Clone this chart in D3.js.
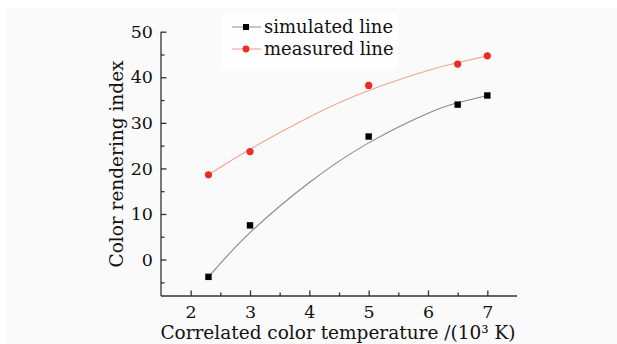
<!DOCTYPE html>
<html>
<head>
<script src="https://cdn.jsdelivr.net/npm/d3@7"></script>
<style>
body { margin: 0; background: #fff; }
text { font-family: "DejaVu Serif", serif; fill: #111; }
.axis path, .axis line { stroke: #333; stroke-width: 1.3px; }
</style>
</head>
<body>
<svg width="617" height="344"></svg>
<script>

// data
var temps = [2.3, 3, 5, 6.5, 7];
var simulated = [-3.8, 7.5, 27.0, 34.0, 36.0];
var measured = [18.6, 23.7, 38.2, 42.9, 44.7];

// fitted curves
var fitTemps = [2.3, 3, 4, 5, 6, 6.5, 7];
var simulatedFit = [-3.8, 5.9, 16.9, 25.6, 32.1, 34.4, 36.0];
var measuredFit = [18.6, 24.2, 31.3, 37.1, 41.5, 43.2, 44.7];

var xTicks = [2, 3, 4, 5, 6, 7];
var yTicks = [0, 10, 20, 30, 40, 50];

var svg = d3.select("svg");

svg.append("rect")
	.attr("x", 7).attr("y", 8)
	.attr("width", 610).attr("height", 336)
	.attr("fill", "#fafafa");

var x = d3.scaleLinear().domain([1.5, 7.5]).range([161, 517]);
var y = d3.scaleLinear().domain([-8, 50]).range([296, 31.7]);

// minor ticks
svg.append("g").attr("class", "axis")
	.attr("transform", "translate(0,296)")
	.call(d3.axisBottom(x).tickValues(d3.range(2.5, 7.5, 1)).tickSize(-3.5).tickFormat(""))
	.select(".domain").remove();
svg.append("g").attr("class", "axis")
	.attr("transform", "translate(161,0)")
	.call(d3.axisLeft(y).tickValues(d3.range(-5, 50, 10)).tickSize(-3.5).tickFormat(""))
	.select(".domain").remove();

var xAxis = svg.append("g").attr("class", "axis")
	.attr("transform", "translate(0,296)")
	.call(d3.axisBottom(x).tickValues(xTicks).tickSize(-5.5).tickSizeOuter(0).tickFormat(d3.format("d")));
xAxis.selectAll("text").attr("font-size", "17.5px").attr("font-family", "DejaVu Serif").attr("dy", "0.71em").attr("y", 9.5);

var yAxis = svg.append("g").attr("class", "axis")
	.attr("transform", "translate(161,0)")
	.call(d3.axisLeft(y).tickValues(yTicks).tickSize(-5.5).tickSizeOuter(0).tickPadding(8).tickFormat(d3.format("d")));
yAxis.selectAll("text").attr("font-size", "17.5px").attr("font-family", "DejaVu Serif");
yAxis.select(".domain").attr("d", "M0," + y(50) + "V296");
xAxis.select(".domain").attr("d", "M161,0H517");

var line = d3.line()
	.x(function(d) { return x(d[0]); })
	.y(function(d) { return y(d[1]); })
	.curve(d3.curveNatural);

svg.append("path")
	.datum(d3.zip(fitTemps, measuredFit))
	.attr("d", line)
	.attr("fill", "none")
	.attr("stroke", "#f4a393")
	.attr("stroke-width", 1.1);

svg.append("path")
	.datum(d3.zip(fitTemps, simulatedFit))
	.attr("d", line)
	.attr("fill", "none")
	.attr("stroke", "#888")
	.attr("stroke-width", 1.1);

svg.append("g").selectAll("rect")
	.data(d3.zip(temps, simulated))
	.enter().append("rect")
	.attr("x", function(d) { return x(d[0]) - 3.2; })
	.attr("y", function(d) { return y(d[1]) - 3.2; })
	.attr("width", 6.4).attr("height", 6.4)
	.attr("fill", "#000");

svg.append("g").selectAll("circle")
	.data(d3.zip(temps, measured))
	.enter().append("circle")
	.attr("cx", function(d) { return x(d[0]); })
	.attr("cy", function(d) { return y(d[1]); })
	.attr("r", 3.6)
	.attr("fill", "#ec2b24");

// legend
var legend = svg.append("g");
legend.append("rect")
	.attr("x", 222).attr("y", 12).attr("width", 176).attr("height", 58)
	.attr("fill", "#fefefe");
legend.append("line")
	.attr("x1", 232).attr("x2", 261).attr("y1", 27).attr("y2", 27)
	.attr("stroke", "#999").attr("stroke-width", 1.1);
legend.append("rect")
	.attr("x", 243).attr("y", 24).attr("width", 6).attr("height", 6).attr("fill", "#000");
legend.append("text")
	.attr("x", 264).attr("y", 33).attr("font-size", "18px")
	.text("simulated line");
legend.append("line")
	.attr("x1", 232).attr("x2", 261).attr("y1", 49).attr("y2", 49)
	.attr("stroke", "#f4a393").attr("stroke-width", 1.1);
legend.append("circle")
	.attr("cx", 246).attr("cy", 49).attr("r", 3.4).attr("fill", "#ec2b24");
legend.append("text")
	.attr("x", 264).attr("y", 55).attr("font-size", "18px")
	.text("measured line");

// axis titles
svg.append("text")
	.attr("x", 338).attr("y", 339)
	.attr("text-anchor", "middle")
	.attr("font-size", "18.5px")
	.text("Correlated color temperature /(10\u00b3 K)");

svg.append("text")
	.attr("transform", "translate(123,164) rotate(-90)")
	.attr("text-anchor", "middle")
	.attr("font-size", "18.5px")
	.text("Color rendering index");

</script>
</body>
</html>
